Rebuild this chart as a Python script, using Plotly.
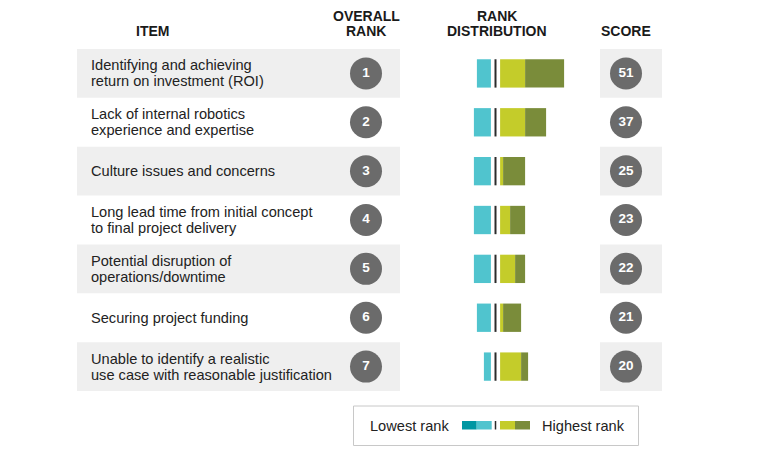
import plotly.graph_objects as go

# table content
items = [
    "Identifying and achieving\nreturn on investment (ROI)",
    "Lack of internal robotics\nexperience and expertise",
    "Culture issues and concerns",
    "Long lead time from initial concept\nto final project delivery",
    "Potential disruption of\noperations/downtime",
    "Securing project funding",
    "Unable to identify a realistic\nuse case with reasonable justification",
]
overall_rank = [1, 2, 3, 4, 5, 6, 7]
scores = [51, 37, 25, 23, 22, 21, 20]

# rank distribution (bar lengths)
low_rank = [14, 17, 17, 17, 17, 14, 7]
high_rank = [25, 25, 3, 10, 15, 3, 21]
highest_rank = [39, 21, 22, 15, 10, 18, 7]

W, H = 774, 450
OFF = 8  # page body margin, figure sits 8px in from the corner
ROW_TOP, ROW_H = 49, 48.86
GAP = 4.6
TEAL_DARK, TEAL = "#0097a2", "#50c4ce"
LIME, OLIVE = "#c4cc2a", "#7a8c3a"
CIRCLE = "#6b6b6b"
FONT = "Liberation Sans, Arial, sans-serif"


def py_to_row(py):
    # page pixel y -> row coordinate (row i centred on i)
    return (py - ROW_TOP) / ROW_H - 0.5


def py_to_paper(py):
    return 1 - (py - OFF) / (H - OFF)


rows = list(range(len(items)))
fig = go.Figure()

# distribution bars, diverging around 0 on x2
fig.add_trace(go.Bar(y=rows, x=[-v for v in low_rank], base=-GAP, orientation="h",
                     marker=dict(color=TEAL, line=dict(width=0)), width=0.58,
                     xaxis="x2", yaxis="y", hoverinfo="skip"))
fig.add_trace(go.Bar(y=rows, x=high_rank, base=GAP, orientation="h",
                     marker=dict(color=LIME, line=dict(width=0)), width=0.58,
                     xaxis="x2", yaxis="y", hoverinfo="skip"))
fig.add_trace(go.Bar(y=rows, x=highest_rank, base=[GAP + v for v in high_rank],
                     orientation="h", marker=dict(color=OLIVE, line=dict(width=0)),
                     width=0.58, xaxis="x2", yaxis="y", hoverinfo="skip"))

# rank and score bubbles
for xpos, vals in ((366, overall_rank), (626, scores)):
    fig.add_trace(go.Scatter(
        x=[xpos] * len(vals), y=rows, mode="markers+text",
        marker=dict(size=32, color=CIRCLE, line=dict(width=0)),
        text=[str(v) for v in vals], textposition="middle center",
        textfont=dict(family=FONT, size=13.5, color="white", weight="bold"),
        xaxis="x", yaxis="y", hoverinfo="skip"))

shapes = []
# alternating row backgrounds
for i in rows:
    if i % 2 == 0:
        shapes.append(dict(type="rect", xref="x", yref="y", x0=77, x1=662,
                           y0=i - 0.5, y1=i + 0.5, fillcolor="#efefef",
                           line=dict(width=0), layer="below"))
    # centre divider of distribution
    shapes.append(dict(type="line", xref="x2", yref="y", x0=0, x1=0,
                       y0=i - 0.29, y1=i + 0.29, line=dict(color="#2b2b2b", width=2)))

# key box
shapes.append(dict(type="rect", xref="x", yref="y", x0=353.5, x1=638.5,
                   y0=py_to_row(406), y1=py_to_row(445.5),
                   line=dict(color="#c8c8c8", width=1), fillcolor="white"))
ky0, ky1 = py_to_row(421), py_to_row(429.5)
for x0, x1, col in ((-33.5, -18.8, TEAL_DARK), (-18.8, -3.8, TEAL),
                    (4.5, 19.5, LIME), (19.5, 34.5, OLIVE)):
    shapes.append(dict(type="rect", xref="x2", yref="y", x0=x0, x1=x1, y0=ky0, y1=ky1,
                       fillcolor=col, line=dict(width=0)))
shapes.append(dict(type="line", xref="x2", yref="y", x0=0, x1=0, y0=ky0, y1=ky1,
                   line=dict(color="#2b2b2b", width=1.5)))

annotations = []
# item labels, lines placed one by one for tight leading
for i, label in enumerate(items):
    lines = label.split("\n")
    n = len(lines)
    for k, line in enumerate(lines):
        annotations.append(dict(
            x=89, y=i, xref="x", yref="y", text=line, showarrow=False,
            xanchor="left", yanchor="middle", yshift=(n - 1) * 8 - k * 16,
            font=dict(family=FONT, size=14.6, color="#222222")))

# column headers
headers = [(152, ["ITEM"]), (366, ["OVERALL", "RANK"]),
           (497, ["RANK", "DISTRIBUTION"]), (626, ["SCORE"])]
for xpos, lines in headers:
    for k, line in enumerate(lines):
        py = 31 - (len(lines) - 1 - k) * 15.5
        annotations.append(dict(
            x=xpos, y=py_to_paper(py), xref="x", yref="paper", text=line,
            showarrow=False, xanchor="center", yanchor="middle",
            font=dict(family=FONT, size=14, color="#1a1a1a", weight="bold")))

# key labels
ky = py_to_row(425.5)
annotations.append(dict(x=451, y=ky, xref="x", yref="y", text="Lowest rank",
                        showarrow=False, xanchor="right", yanchor="middle",
                        font=dict(family=FONT, size=14.6, color="#222222")))
annotations.append(dict(x=540, y=ky, xref="x", yref="y", text="Highest rank",
                        showarrow=False, xanchor="left", yanchor="middle",
                        font=dict(family=FONT, size=14.6, color="#222222")))

fig.update_layout(
    width=W - OFF, height=H - OFF,
    margin=dict(l=0, r=0, t=0, b=0),
    paper_bgcolor="white", plot_bgcolor="white",
    showlegend=False, barmode="overlay",
    xaxis=dict(range=[OFF, W], domain=[0, 1], visible=False, fixedrange=True),
    xaxis2=dict(range=[-95.5, 104.5],
                domain=[(400 - OFF) / (W - OFF), (600 - OFF) / (W - OFF)],
                anchor="y", visible=False, fixedrange=True),
    yaxis=dict(range=[py_to_row(H), py_to_row(OFF)], domain=[0, 1], visible=False,
               fixedrange=True),
    shapes=shapes,
    annotations=annotations,
)

fig.write_html("out.html")
